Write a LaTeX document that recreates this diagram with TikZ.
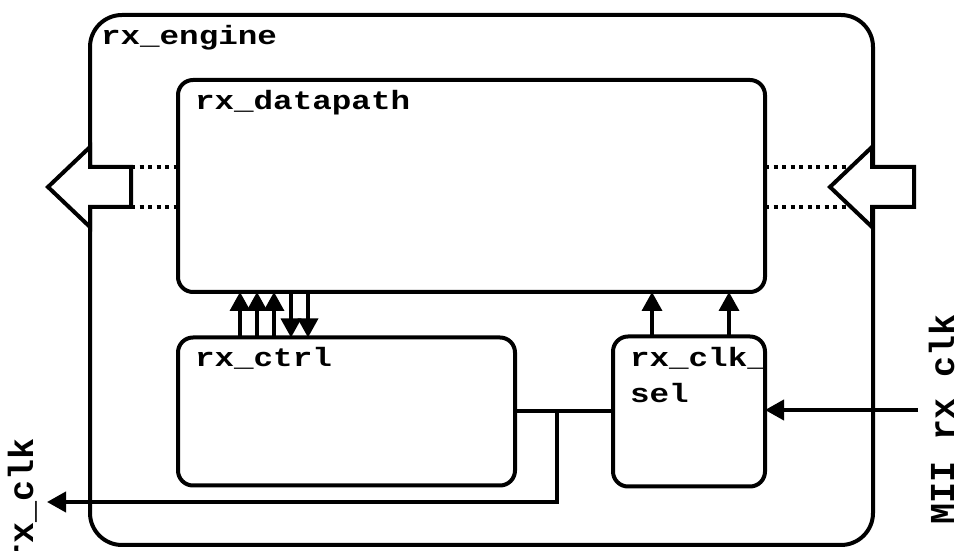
\documentclass[tikz,border=0pt]{standalone}
\usepackage{fontspec}
\setmonofont{Liberation Mono}
\usetikzlibrary{arrows.meta,calc}

\begin{document}
\begin{tikzpicture}[x=1pt,y=1pt,
  wire/.style={line width=4pt},
  block/.style={draw, line width=4pt, rounded corners=15pt, outer sep=0pt, inner sep=0pt},
  lbl/.style={inner sep=0pt, outer sep=0pt, font=\ttfamily\bfseries\fontsize{26.5}{30}\selectfont, xscale=1.23},
  sidelbl/.style={inner sep=0pt, outer sep=0pt, font=\ttfamily\bfseries\fontsize{35}{40}\selectfont},
  sig/.style={line width=3.5pt, -{Triangle[width=20pt,length=19pt]}},
  bus/.style={line width=4pt, dash pattern=on 4pt off 4.5pt},
  port/.style={draw, fill=white, line width=4pt, line join=miter}
]
\useasboundingbox (0,0) rectangle (955,551);

% enclosing engine block
\node[block, rounded corners=32pt, minimum width=783pt, minimum height=530pt] (eng) at (481.5,271) {};

% sub-blocks
\node[block, minimum width=587pt, minimum height=212pt] (dp) at (471.5,365) {};
\node[block, minimum width=337pt, minimum height=148pt] (ctrl) at (346.5,139.5) {};
\node[block, minimum width=152pt, minimum height=150pt] (sel) at (689,139.5) {};

% block titles
\node[lbl, anchor=base west] (tEng) at (101,506) {rx\_engine};
\node[lbl, anchor=base west] (tDp) at (195,441) {rx\_datapath};
\node[lbl, anchor=base west] (tCtrl) at (195,184) {rx\_ctrl};
\node[lbl, anchor=base west] (tSelA) at (630,184) {rx\_clk\_};
\node[lbl, anchor=base west] (tSelB) at (630,148) {sel};

% data buses entering / leaving the datapath
\coordinate (lo1) at (131,384);
\coordinate (lo2) at (131,344);
\coordinate (ri1) at (848,384);
\coordinate (ri2) at (848,344);
\draw[bus] (lo1) -- (lo1 -| dp.west);
\draw[bus] (lo2) -- (lo2 -| dp.west);
\draw[bus] (ri1 -| dp.east) -- (ri1);
\draw[bus] (ri2 -| dp.east) -- (ri2);

% hollow port arrows on the engine boundary
\draw[port] (131,384) -- (90,384) -- (90,404) -- (48,364) -- (90,324) -- (90,344) -- (131,344) -- cycle;
\draw[port] (914,384) -- (872,384) -- (872,404) -- (830,364) -- (872,324) -- (872,344) -- (914,344) -- cycle;

% control <-> datapath handshakes
\foreach \dx in {62,79,96}
  \draw[sig] ([xshift=\dx pt]ctrl.north west) -- ([xshift=\dx pt]ctrl.north west |- dp.south);
\foreach \dx in {113,130}
  \draw[sig] ([xshift=\dx pt]ctrl.north west |- dp.south) -- ([xshift=\dx pt]ctrl.north west);

% clock select feeding the datapath
\foreach \dx in {39,116}
  \draw[sig] ([xshift=\dx pt]sel.north west) -- ([xshift=\dx pt]sel.north west |- dp.south);

% clock wiring
\coordinate (br) at (557,139.5);
\coordinate (clkout) at (47,49);
\coordinate (miiin) at (918,141);
\draw[wire] (ctrl.east) -- (sel.west);
\draw[sig, line width=4pt] (br) |- (clkout);
\draw[sig, line width=4pt] (miiin) -- (miiin -| sel.east);

% external clock names
\node[sidelbl, anchor=base east, rotate=90] (tOut) at (33,113) {rx\_clk};
\node[sidelbl, anchor=base west, rotate=90] (tIn) at (954,26) {MII rx\_clk};
\end{tikzpicture}
\end{document}
